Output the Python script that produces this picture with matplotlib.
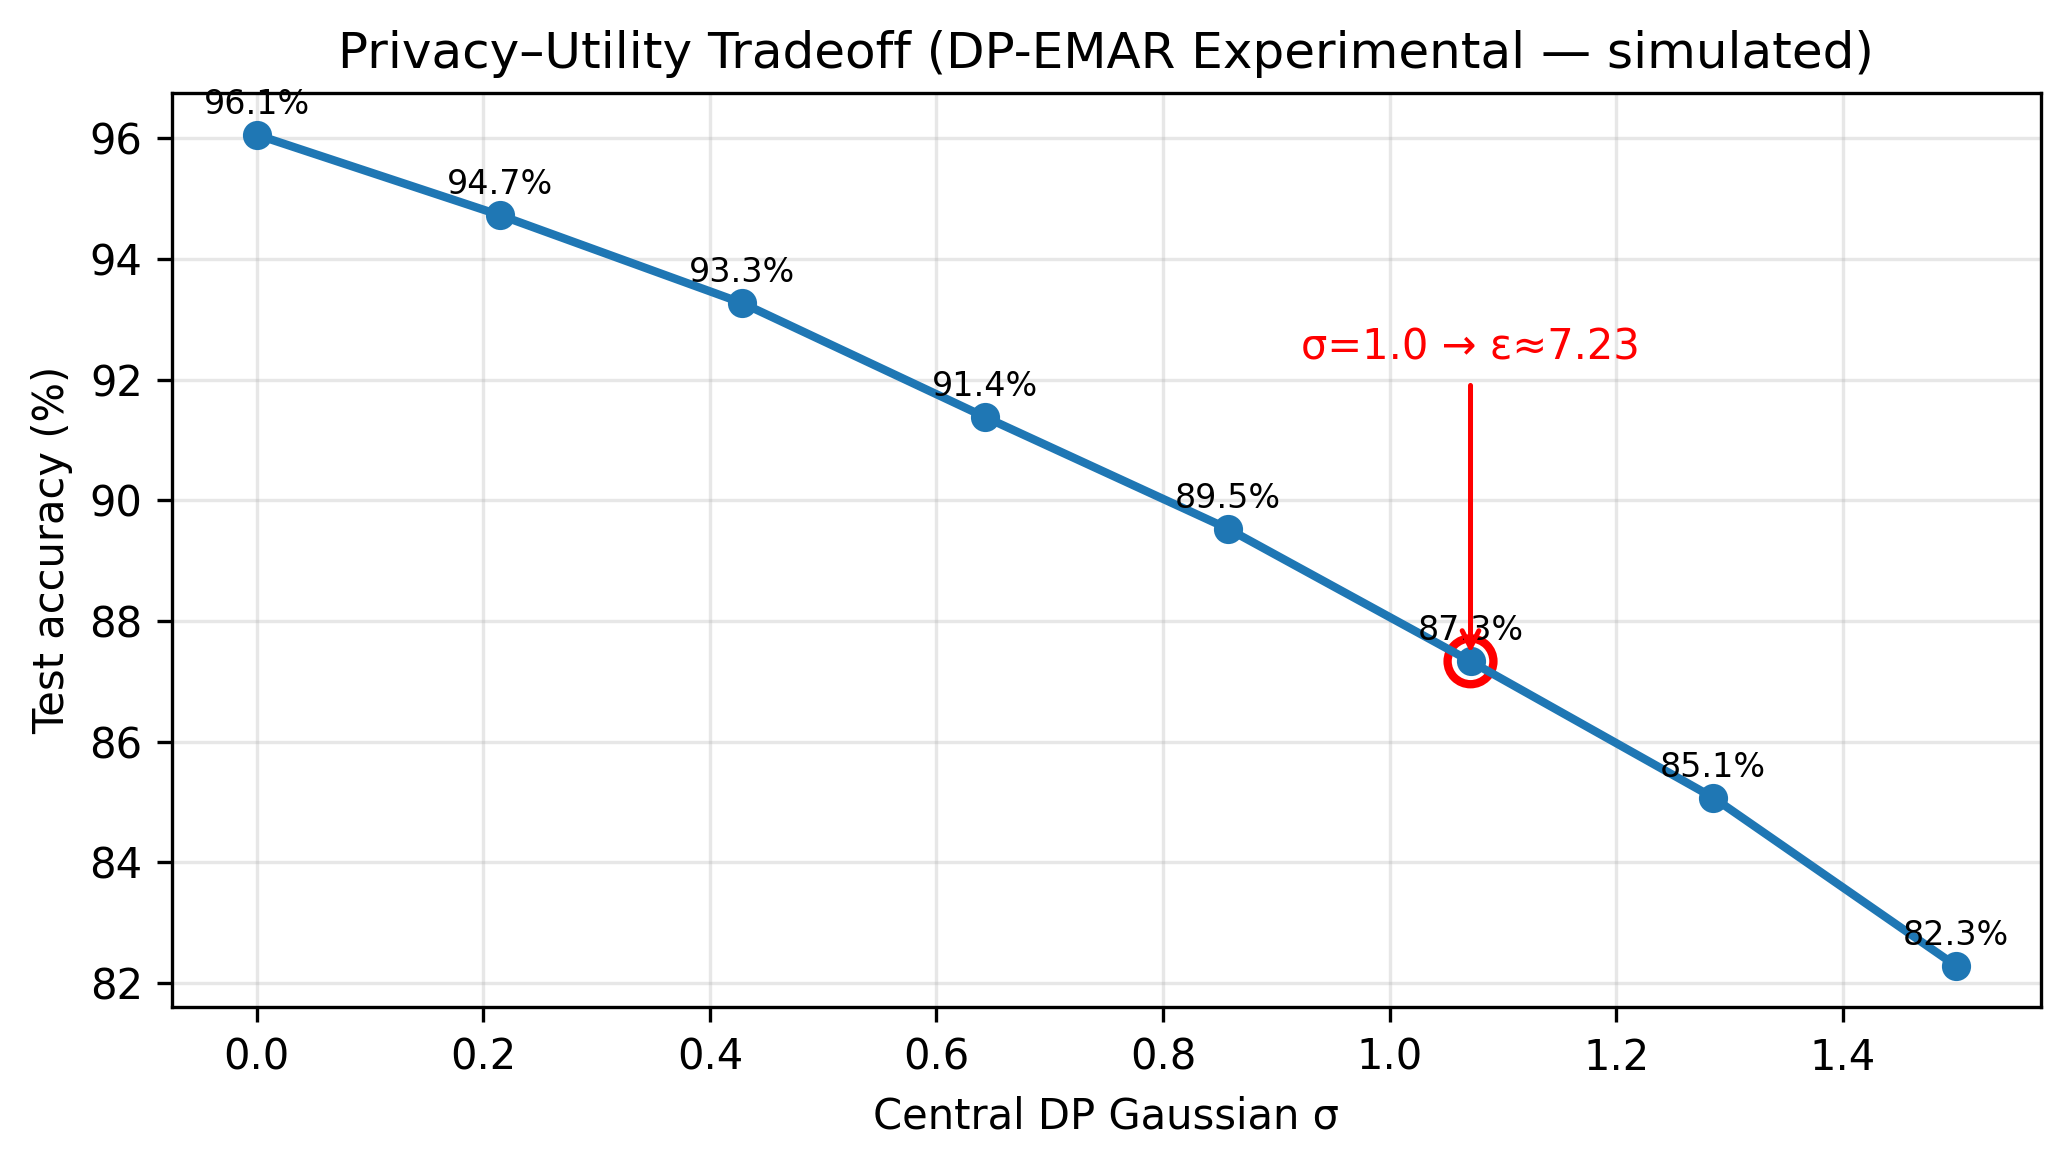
import numpy as np
import matplotlib
matplotlib.use("Agg")
import matplotlib.pyplot as plt

# noise levels (sigma) and measured test accuracy
sigmas = [0.0, 0.2143, 0.4286, 0.6429, 0.8571, 1.0714, 1.2857, 1.5]
accuracy = [96.06, 94.73, 93.27, 91.38, 89.53, 87.33, 85.07, 82.28]

# highlighted operating point
hl_idx = 5
hl_text = "σ=1.0 → ε≈7.23"

fig, ax = plt.subplots(figsize=(6.9, 3.8867), dpi=300)
fig.subplots_adjust(left=0.083, right=0.986, top=0.92, bottom=0.136)

ax.plot(sigmas, accuracy, marker="o", lw=2, ms=6, color="#1f77b4")

for s, a in zip(sigmas, accuracy):
    ax.annotate(f"{a:.1f}%", (s, a), textcoords="offset points", xytext=(0, 5),
                ha="center", fontsize=8)

# mark the chosen sigma
ax.scatter([sigmas[hl_idx]], [accuracy[hl_idx]], s=121, facecolors="none",
           edgecolors="red", linewidths=2)
ax.annotate(hl_text, (sigmas[hl_idx], accuracy[hl_idx]),
            xytext=(sigmas[hl_idx], accuracy[hl_idx] + 5), ha="center",
            color="red", fontsize=10,
            arrowprops=dict(arrowstyle="->", color="red", lw=1.2))

ax.set_title("Privacy–Utility Tradeoff (DP-EMAR Experimental — simulated)")
ax.set_xlabel("Central DP Gaussian σ")
ax.set_ylabel("Test accuracy (%)")
ax.grid(True, alpha=0.3)

fig.savefig("out.png", dpi=300)
